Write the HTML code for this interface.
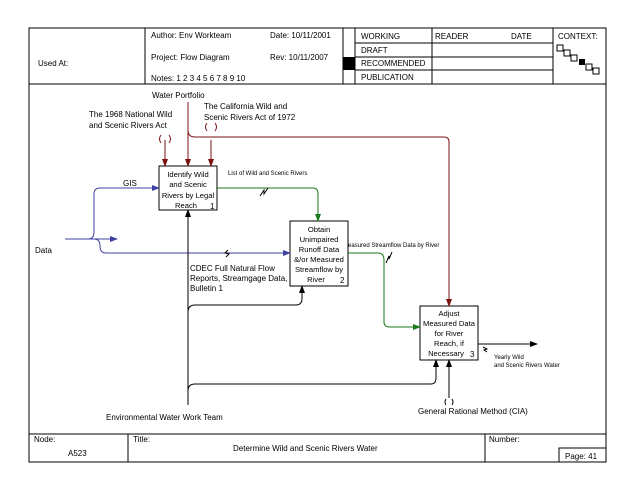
<!DOCTYPE html>
<html><head><style>
body{margin:0;background:#fff}
svg{display:block;font-family:"Liberation Sans",sans-serif}
</style></head><body>
<svg width="638" height="493" viewBox="0 0 638 493" xmlns="http://www.w3.org/2000/svg">
<defs>
<marker id="ab" markerWidth="8" markerHeight="8" refX="7" refY="4" orient="auto" markerUnits="userSpaceOnUse"><path d="M0,1 L8,4 L0,7z" fill="#000"/></marker>
<marker id="ar" markerWidth="8" markerHeight="8" refX="7" refY="4" orient="auto" markerUnits="userSpaceOnUse"><path d="M0,1 L8,4 L0,7z" fill="#7a1010"/></marker>
<marker id="ag" markerWidth="8" markerHeight="8" refX="7" refY="4" orient="auto" markerUnits="userSpaceOnUse"><path d="M0,1 L8,4 L0,7z" fill="#1a7a1a"/></marker>
<marker id="au" markerWidth="8" markerHeight="8" refX="7" refY="4" orient="auto" markerUnits="userSpaceOnUse"><path d="M0,1 L8,4 L0,7z" fill="#4040a0"/></marker>
</defs>
<g fill="none" stroke="#000" stroke-width="1">
<rect x="29" y="28" width="577" height="434"/>
<line x1="29" y1="84" x2="606" y2="84"/>
<line x1="145" y1="28" x2="145" y2="84"/>
<line x1="343" y1="28" x2="343" y2="84"/>
<line x1="355" y1="28" x2="355" y2="84"/>
<line x1="432" y1="28" x2="432" y2="84"/>
<line x1="553" y1="28" x2="553" y2="84"/>
<line x1="355" y1="43" x2="553" y2="43"/>
<line x1="355" y1="57" x2="553" y2="57"/>
<line x1="355" y1="70" x2="553" y2="70"/>
<line x1="29" y1="434" x2="606" y2="434"/>
<line x1="128" y1="434" x2="128" y2="462"/>
<line x1="485" y1="434" x2="485" y2="462"/>
<rect x="559" y="448" width="47" height="14"/>
<rect x="557" y="45" width="6" height="6"/><rect x="564" y="50" width="6" height="6"/><rect x="571" y="55" width="6" height="6"/>
<rect x="586" y="64" width="6" height="6"/><rect x="593" y="68" width="6" height="6"/>
</g>
<rect x="343" y="57" width="12" height="13" fill="#000"/>
<rect x="579" y="59" width="6" height="6" fill="#000"/>
<g font-size="8" fill="#000">
<text x="38" y="66">Used At:</text>
<text x="151" y="38">Author: Env Workteam</text>
<text x="270" y="38">Date: 10/11/2001</text>
<text x="151" y="60">Project: Flow Diagram</text>
<text x="270" y="60">Rev:  10/11/2007</text>
<text x="151" y="81">Notes:  1 2 3 4 5 6 7 8 9 10</text>
<text x="361" y="39">WORKING</text>
<text x="361" y="53">DRAFT</text>
<text x="361" y="66">RECOMMENDED</text>
<text x="361" y="80">PUBLICATION</text>
<text x="435" y="39">READER</text>
<text x="511" y="39">DATE</text>
<text x="558" y="39">CONTEXT:</text>
<text x="34" y="442">Node:</text>
<text x="68" y="456">A523</text>
<text x="133" y="442">Title:</text>
<text x="233" y="451">Determine Wild and Scenic Rivers Water</text>
<text x="489" y="442">Number:</text>
<text x="565" y="459">Page:  41</text>
<text x="152" y="98">Water Portfolio</text>
<text x="89" y="117">The 1968 National Wild</text>
<text x="89" y="128">and Scenic Rivers Act</text>
<text x="204" y="109">The California Wild and</text>
<text x="204" y="120">Scenic Rivers Act of 1972</text>
<text x="123" y="186">GIS</text>
<text x="35" y="253">Data</text>
<text x="190" y="271">CDEC Full Natural Flow</text>
<text x="190" y="281">Reports, Streamgage Data,</text>
<text x="190" y="291">Bulletin 1</text>
<text x="106" y="420">Environmental Water Work Team</text>
<text x="418" y="414">General Rational Method (CIA)</text>
</g>
<g font-size="6" fill="#000">
<text x="228" y="175">List of Wild and Scenic Rivers</text>
<text x="343" y="247">Measured Streamflow Data by River</text>
<text x="494" y="359">Yearly Wild</text>
<text x="494" y="367">and Scenic Rivers Water</text>
</g>
<g fill="#fff" stroke="#000">
<rect x="159" y="166" width="58" height="44"/>
<rect x="290" y="221" width="58" height="65"/>
<rect x="420" y="306" width="58" height="54"/>
</g>
<g font-size="7.6" fill="#000" text-anchor="middle">
<text x="188" y="177">Identify Wild</text><text x="188" y="187">and Scenic</text><text x="188" y="198">Rivers by Legal</text><text x="186" y="208">Reach</text>
<text x="319" y="232">Obtain</text><text x="319" y="242">Unimpaired</text><text x="319" y="252">Runoff Data</text><text x="319" y="262">&amp;/or Measured</text><text x="319" y="272">Streamflow by</text><text x="316" y="282">River</text>
<text x="449" y="316">Adjust</text><text x="449" y="326">Measured Data</text><text x="449" y="336">for River</text><text x="449" y="346">Reach, if</text><text x="446" y="356">Necessary</text>
</g>
<g font-size="8"><text x="210" y="209">1</text><text x="340" y="283">2</text><text x="470" y="357">3</text></g>
<g fill="none" stroke="#7a1010">
<line x1="165" y1="140" x2="165" y2="166" marker-end="url(#ar)"/>
<line x1="211" y1="140" x2="211" y2="166" marker-end="url(#ar)"/>
<line x1="188" y1="102" x2="188" y2="166" marker-end="url(#ar)"/>
<path d="M188,130 Q188,137 195,137 L444,137 Q449,137 449,142 L449,306" marker-end="url(#ar)"/>
<path d="M161,135 q-3,4 0,8 M169,135 q3,4 0,8 M207,123 q-3,4 0,8 M215,123 q3,4 0,8"/>
</g>
<g fill="none" stroke="#4040a0">
<line x1="65" y1="239" x2="117" y2="239" marker-end="url(#au)"/>
<path d="M88,239 Q94,239 94,232 L94,194 Q94,188 100,188 L159,188" marker-end="url(#au)"/>
<path d="M94,239 Q100,239 100,246 Q100,253 106,253 L290,253" marker-end="url(#au)"/>
</g>
<g fill="none" stroke="#1a7a1a">
<path d="M217,188 L313,188 Q318,188 318,194 L318,221" marker-end="url(#ag)"/>
<path d="M348,253 L378,253 Q384,253 384,260 L384,322 Q384,327 390,327 L420,327" marker-end="url(#ag)"/>
</g>
<g fill="none" stroke="#000">
<line x1="188" y1="405" x2="188" y2="210" marker-end="url(#ab)"/>
<path d="M188,312 Q188,305 195,305 L296,305 Q302,305 302,298 L302,286" marker-end="url(#ab)"/>
<path d="M188,391 Q188,384 195,384 L431,384 Q436,384 436,378 L436,360" marker-end="url(#ab)"/>
<line x1="449" y1="398" x2="449" y2="360" marker-end="url(#ab)"/>
<line x1="478" y1="344" x2="537" y2="344" marker-end="url(#ab)"/>
<path d="M446,399 q-2,3 0,6 M452,399 q2,3 0,6"/>
<path d="M260,196 l4,-6 l0,4 l4,-6 M228,250 l-3,3 l4,1 l-3,3 M386,263 l3,-7 l0,3 l3,-7 M483,347 l4,2 l-3,1 l3,2"/>
</g>
</svg>
</body></html>
